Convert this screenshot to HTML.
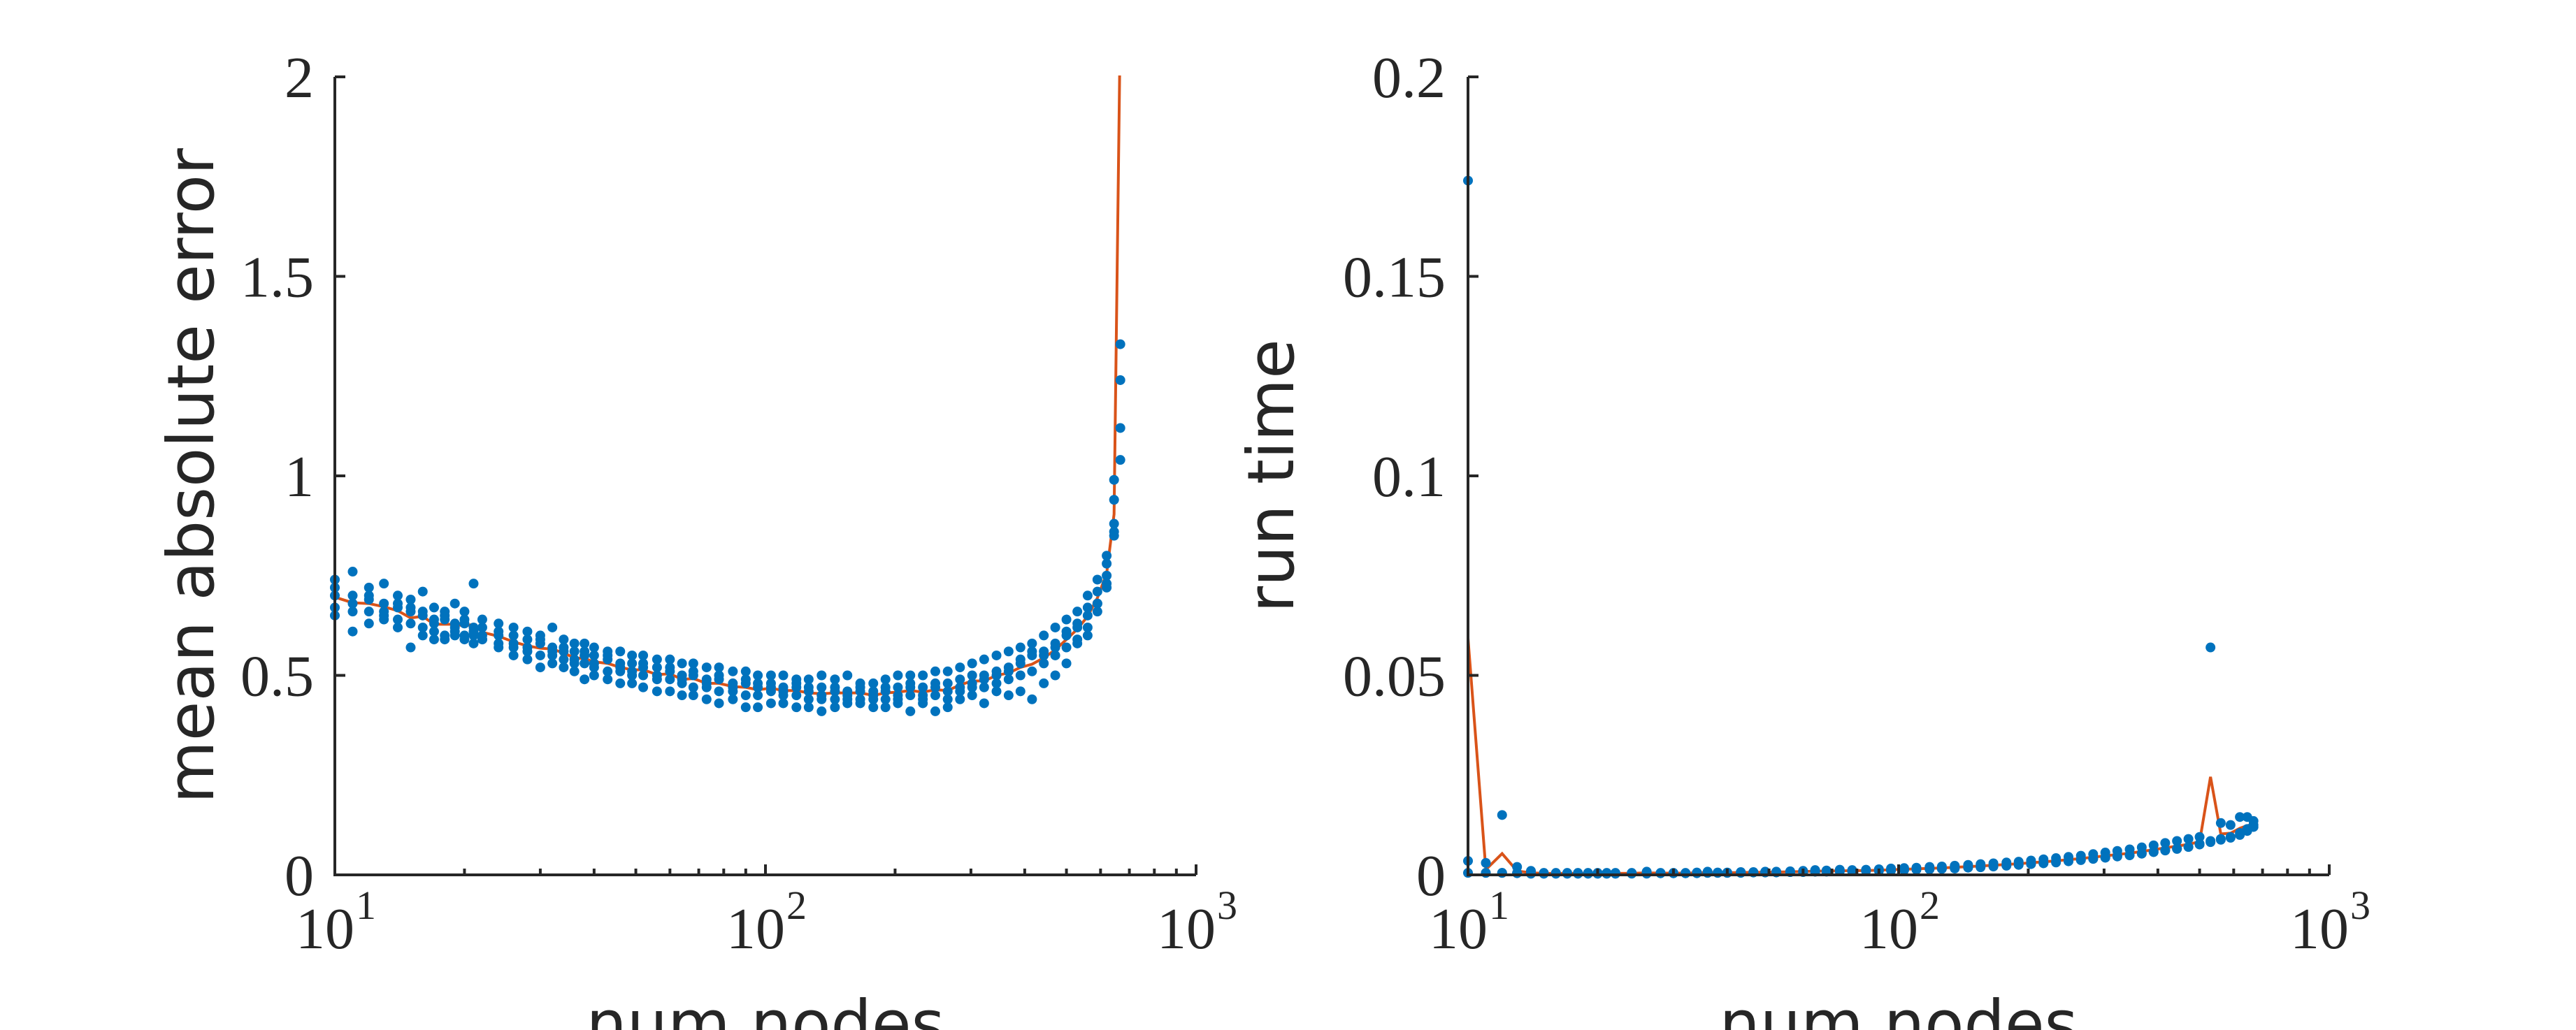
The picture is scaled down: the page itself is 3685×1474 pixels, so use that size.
<!DOCTYPE html>
<html><head><meta charset="utf-8"><style>
html,body{margin:0;padding:0;background:#fff;overflow:hidden}
svg{display:block}
.tk{font-family:"Liberation Serif",serif;font-size:84px;fill:#262626}
.sup{font-family:"Liberation Serif",serif;font-size:58px;fill:#262626}
.lab{font-family:"DejaVu Sans","Liberation Sans",sans-serif;font-size:92px;fill:#262626}
</style></head><body>
<svg id="fig" width="3685" height="1474" viewBox="0 0 3685 1474" xmlns="http://www.w3.org/2000/svg">
<defs>
<clipPath id="clipL"><rect x="470" y="108" width="1250" height="1150"/></clipPath>
<clipPath id="clipR"><rect x="2090" y="108" width="1250" height="1150"/></clipPath>
</defs>
<g id="left"></g>
<g id="right"></g>
</svg>
<script>
const nodes=[10,11,12,13,14,15,16,17,18,19,20,21,22,24,26,28,30,32,34,36,38,40,43,46,49,52,56,60,64,68,73,78,84,90,96,103,110,118,126,135,145,155,166,178,190,203,217,232,248,265,283,302,322,344,367,391,416,443,471,500,530,560,590,620,645,667];
const errA=[.74,.76,.72,.73,.70,.69,.71,.67,.66,.68,.66,.73,.64,.63,.62,.61,.60,.62,.59,.58,.58,.57,.56,.56,.55,.55,.54,.54,.53,.53,.52,.52,.51,.51,.50,.50,.50,.49,.49,.50,.49,.50,.48,.48,.49,.50,.50,.50,.51,.51,.52,.53,.54,.55,.56,.57,.58,.60,.62,.64,.66,.70,.74,.80,.94,1.33];
const errB=[.70,.70,.69,.68,.67,.66,.65,.64,.64,.63,.63,.62,.62,.60,.60,.59,.58,.57,.56,.56,.55,.55,.54,.53,.53,.52,.52,.51,.50,.50,.49,.49,.48,.48,.48,.47,.47,.47,.46,.47,.46,.46,.46,.46,.46,.47,.47,.47,.48,.48,.49,.50,.50,.51,.52,.53,.55,.56,.58,.60,.63,.67,.71,.75,.88,1.24];
const errC=[.67,.66,.66,.65,.64,.57,.62,.63,.60,.61,.60,.60,.59,.58,.57,.56,.55,.55,.54,.53,.53,.52,.51,.51,.50,.50,.49,.49,.48,.47,.47,.46,.46,.45,.45,.46,.45,.45,.44,.45,.44,.44,.44,.45,.44,.44,.45,.45,.45,.46,.46,.47,.47,.48,.49,.50,.51,.53,.55,.57,.59,.62,.66,.73,.85,1.12];
const errD=[.65,.61,.63,.64,.62,.63,.60,.59,.59,.60,.59,.58,.59,.57,.55,.54,.52,.53,.52,.51,.49,.50,.49,.48,.48,.47,.46,.46,.45,.45,.44,.43,.44,.42,.42,.43,.43,.42,.42,.41,.42,.43,.43,.42,.42,.43,.41,.43,.41,.42,.44,.45,.43,.46,.45,.46,.44,.48,.50,.53,.58,.60,.68,.72,.86,1.04];
const errE=[.72,.68,.70,.66,.68,.67,.66,.61,.65,.62,.64,.61,.60,.61,.58,.57,.59,.56,.57,.54,.56,.53,.55,.52,.51,.53,.50,.52,.49,.51,.48,.50,.47,.49,.47,.48,.46,.48,.47,.44,.47,.45,.47,.44,.47,.45,.48,.44,.47,.44,.47,.48,.49,.50,.51,.54,.56,.55,.57,.61,.62,.65,.68,.78,.99,6];
const rtA=[0.174,0.003,0.015,0.002,0.001,0.0005,0.0005,0.0005,0.0005,0.0005,0.0005,0.0005,0.0005,0.0005,0.0008,0.0005,0.0005,0.0005,0.0006,0.0008,0.0006,0.0006,0.0007,0.0007,0.0008,0.0008,0.0009,0.0010,0.0012,0.0011,0.0013,0.0012,0.0013,0.0014,0.0016,0.0017,0.0018,0.0020,0.0021,0.0023,0.0025,0.0027,0.0029,0.0031,0.0033,0.0036,0.0039,0.0042,0.0045,0.0048,0.0052,0.0056,0.0060,0.0064,0.0069,0.0074,0.0080,0.0085,0.0090,0.0095,0.057,0.013,0.0125,0.0145,0.0145,0.0135];
const rtB=[0.0035,0.0005,0.0005,0.0005,0.0003,0.0003,0.0003,0.0003,0.0003,0.0003,0.0003,0.0003,0.0003,0.0004,0.0004,0.0004,0.0004,0.0004,0.0005,0.0005,0.0005,0.0005,0.0006,0.0006,0.0006,0.0007,0.0007,0.0008,0.0008,0.0009,0.0009,0.0010,0.0010,0.0011,0.0012,0.0013,0.0014,0.0015,0.0016,0.0018,0.0019,0.0021,0.0022,0.0024,0.0026,0.0028,0.0030,0.0033,0.0035,0.0038,0.0041,0.0044,0.0047,0.0050,0.0054,0.0058,0.0062,0.0066,0.0070,0.0078,0.0085,0.0090,0.0095,0.0105,0.0115,0.0125];
const rtC=[0.0005,0.0005,0.0005,0.0004,0.0003,0.0003,0.0003,0.0003,0.0003,0.0003,0.0003,0.0003,0.0003,0.0003,0.0003,0.0004,0.0004,0.0004,0.0004,0.0005,0.0005,0.0005,0.0005,0.0006,0.0006,0.0006,0.0007,0.0007,0.0008,0.0008,0.0009,0.0009,0.0010,0.0010,0.0011,0.0012,0.0013,0.0014,0.0015,0.0016,0.0018,0.0019,0.0021,0.0023,0.0025,0.0027,0.0029,0.0031,0.0034,0.0037,0.0040,0.0043,0.0046,0.0049,0.0053,0.0057,0.0061,0.0065,0.0070,0.0076,0.0082,0.0088,0.0093,0.0100,0.0110,0.0120];
const errTicks=[0,0.5,1,1.5,2];
const errTickLabels=["0","0.5","1","1.5","2"];
const rtTicks=[0,0.05,0.1,0.15,0.2];
const rtTickLabels=["0","0.05","0.1","0.15","0.2"];
const xDecades=[1,2,3];

const NS="http://www.w3.org/2000/svg";
function mk(tag,attrs,parent){const e=document.createElementNS(NS,tag);for(const k in attrs)e.setAttribute(k,attrs[k]);parent.appendChild(e);return e;}

function drawPanel(g,cfg){
  const x0=cfg.x0,x1=cfg.x1,yT=110,yB=1252;
  const sx=n=>x0+(Math.log10(n)-1)/2*(x1-x0);
  const sy=v=>yB-(v-cfg.ymin)/(cfg.ymax-cfg.ymin)*(yB-yT);
  const mean=nodes.map((n,i)=>cfg.series.reduce((s,a)=>s+a[i],0)/cfg.series.length);
  const line=mk('polyline',{points:nodes.map((n,i)=>sx(n)+','+sy(mean[i])).join(' '),fill:'none',stroke:'#D95319','stroke-width':4,'clip-path':cfg.clip},g);
  
  
  cfg.series.forEach((arr,k)=>{
    arr.forEach((v,i)=>{
      const c=mk('circle',{cx:sx(nodes[i]),cy:sy(v),r:7,fill:'#0072BD','clip-path':cfg.clip},g);
      
      
    });
  });
  const ax=mk('path',{d:`M${x0},${yT} V${yB} H${x1}`,fill:'none',stroke:'#262626','stroke-width':4},g);
  
  
  cfg.ticks.forEach((t,i)=>{
    const y=sy(t);
    mk('line',{x1:x0,x2:x0+15,y1:y,y2:y,stroke:'#262626','stroke-width':4},g);
    const tx=mk('text',{x:cfg.labelRight,y:y+29,'text-anchor':'end',class:'tk'},g);
    tx.textContent=cfg.tickLabels[i];
    
    
  });
  xDecades.forEach(d=>{
    const x=sx(Math.pow(10,d));
    mk('line',{x1:x,x2:x,y1:yB,y2:yB-15,stroke:'#262626','stroke-width':4},g);
    const tx=mk('text',{x:x-14,y:1357,'text-anchor':'middle',class:'tk'},g);
    tx.textContent='10';
    
    
    const sp=mk('text',{x:x+30,y:1315,class:'sup'},g);
    sp.textContent=String(d);
    
    
    if(d<3){for(let m=2;m<=9;m++){const xm=sx(m*Math.pow(10,d));mk('line',{x1:xm,x2:xm,y1:yB,y2:yB-9,stroke:'#262626','stroke-width':4},g);}}
  });
  const yl=mk('text',{x:0,y:0,'text-anchor':'middle',class:'lab',transform:`translate(${cfg.ylabX},${(yT+yB)/2-cfg.ylabShift}) rotate(-90)`},g);
  yl.textContent=cfg.ylabel;
  
  
  const xl=mk('text',{x:(x0+x1)/2,y:1497,'text-anchor':'middle',class:'lab'},g);
  xl.textContent='num nodes';
  
  
}
drawPanel(document.getElementById('left'),{x0:479,x1:1711,ymin:0,ymax:2,ticks:errTicks,tickLabels:errTickLabels,labelRight:449,series:[errA,errB,errC,errD,errE],clip:'url(#clipL)',ylabel:'mean absolute error',ylabX:305,ylabShift:0});
drawPanel(document.getElementById('right'),{x0:2100,x1:3332,ymin:0,ymax:0.2,ticks:rtTicks,tickLabels:rtTickLabels,labelRight:2068,series:[rtA,rtB,rtC],clip:'url(#clipR)',ylabel:'run time',ylabX:1850,ylabShift:0});
</script>
</body></html>
